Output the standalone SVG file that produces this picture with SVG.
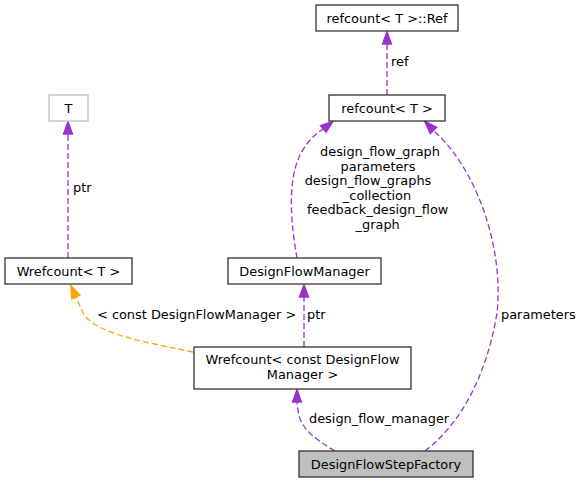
<svg xmlns="http://www.w3.org/2000/svg" width="582" height="483" viewBox="0 0 582 483">
<style>
text{font-family:"DejaVu Sans","Liberation Sans",sans-serif;font-size:12.9px;fill:#000}
.n{fill:#fff;stroke:#333;stroke-width:1.3}
.c{text-anchor:middle}
.e{fill:none;stroke:#9a32cd;stroke-width:1.3;stroke-dasharray:6,3}
.o{fill:none;stroke:#ffa500;stroke-width:1.3;stroke-dasharray:6,3}
.ah{fill:#9a32cd;stroke:#9a32cd;stroke-width:1.3}
.ao{fill:#ffa500;stroke:#ffa500;stroke-width:1.3}
</style>
<rect width="582" height="483" fill="#fff"/>
<g id="edges">
<path class="e" d="M387,95 L387,44"/>
<polygon class="ah" points="382.5,44 387,31.5 391.5,44"/>
<text x="391" y="66">ref</text>
<path class="e" d="M68,258 L68,134"/>
<polygon class="ah" points="63.5,134 68,121.5 72.5,134"/>
<text x="73" y="192">ptr</text>
<path class="e" d="M297,258 C291,225 287,182 300,155 C306,143 314,135 323,129"/>
<polygon class="ah" points="320.4,125.5 333,121.5 326.1,132.5"/>
<text class="c" x="380" y="156">design_flow_graph</text>
<text class="c" x="378" y="170.5">parameters</text>
<text class="c" x="368" y="185">design_flow_graphs</text>
<text class="c" x="377" y="199.5">_collection</text>
<text class="c" x="377.7" y="214">feedback_design_flow</text>
<text class="c" x="377.7" y="228.5">_graph</text>
<path class="e" d="M425,451 C455,428 485,385 497,313 C504,250 478,170 433.5,130.5"/>
<polygon class="ah" points="436.8,127.4 424.5,121 430.2,133.6"/>
<text x="501" y="319">parameters</text>
<path class="e" d="M304,347 L304,297"/>
<polygon class="ah" points="299.5,297 304,284.5 308.5,297"/>
<text x="307" y="319">ptr</text>
<path class="o" d="M193,352 C150,343 100,335 85,316 C81,310 79,303 76,297"/>
<polygon class="ao" points="80.1,295.1 70.7,285.4 71.9,298.9"/>
<text x="97" y="319">&lt; const DesignFlowManager &gt;</text>
<path class="e" d="M335,451 C318,441 302,430 299,415 C298,410 297,406 297,402"/>
<polygon class="ah" points="292.5,402 297,389.5 301.5,402"/>
<text x="309" y="423">design_flow_manager</text>
</g>
<g id="node-ref">
<rect class="n" x="316" y="5" width="142" height="26"/>
<text class="c" x="387" y="22.5">refcount&lt; T &gt;::Ref</text>
</g>
<g id="node-refcount">
<rect class="n" x="329" y="95" width="116" height="26"/>
<text class="c" x="387" y="112.5">refcount&lt; T &gt;</text>
</g>
<g id="node-T">
<rect class="n" x="49" y="95" width="39" height="26" style="stroke:#bfbfbf"/>
<text class="c" x="68.5" y="112.5">T</text>
</g>
<g id="node-wrefT">
<rect class="n" x="5" y="258" width="127" height="26"/>
<text class="c" x="68.5" y="275.5">Wrefcount&lt; T &gt;</text>
</g>
<g id="node-dfm">
<rect class="n" x="228" y="258" width="153" height="26"/>
<text class="c" x="304.5" y="275.5">DesignFlowManager</text>
</g>
<g id="node-wrefdfm">
<rect class="n" x="194" y="347" width="217" height="42"/>
<text class="c" x="302.5" y="364">Wrefcount&lt; const DesignFlow</text>
<text class="c" x="302.5" y="379">Manager &gt;</text>
</g>
<g id="node-dfsf">
<rect class="n" x="299" y="451" width="174" height="26" style="fill:#bfbfbf"/>
<text class="c" x="386" y="468.5">DesignFlowStepFactory</text>
</g>
</svg>
